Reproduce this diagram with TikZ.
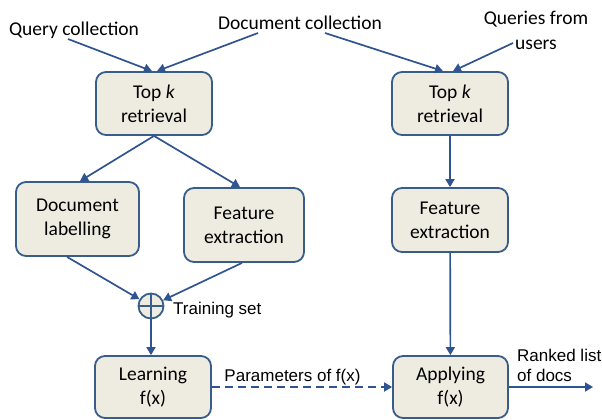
\documentclass[tikz,border=0pt]{standalone}
\usepackage{fontspec}
\setmainfont{Carlito}
\newfontfamily\arialf{Liberation Sans}
\usetikzlibrary{arrows.meta}
\definecolor{bcol}{HTML}{385D8A}
\definecolor{acol}{HTML}{2F5490}
\definecolor{bfill}{HTML}{EEECE1}
\begin{document}
\begin{tikzpicture}[x=1pt,y=-1pt,
 box/.style={draw=bcol, fill=bfill, line width=1.8pt, rounded corners=10pt, align=center, font=\fontsize{19.5}{24}\selectfont, inner sep=0pt},
 lbl/.style={font=\fontsize{19.5}{25}\selectfont, inner sep=0pt, align=center},
 albl/.style={font=\arialf\fontsize{17}{20}\selectfont, inner sep=0pt},
 arr/.style={draw=acol, line width=1.7pt, -{Triangle[length=8pt,width=9pt]}},
 summer/.style={circle, draw=bcol, fill=bfill, line width=1.8pt, minimum size=25pt, inner sep=0pt,
   path picture={\draw[bcol, line width=1.8pt] (path picture bounding box.north) -- (path picture bounding box.south)
     (path picture bounding box.west) -- (path picture bounding box.east);}},
]
\useasboundingbox (0,0) rectangle (602,420);
% boxes
\node[box, minimum width=116pt, minimum height=63pt] (tk1) at (154,103.5) {Top \textit{k}\\retrieval};
\node[box, minimum width=116pt, minimum height=63pt] (tk2) at (450,103.5) {Top \textit{k}\\retrieval};
\node[box, minimum width=123pt, minimum height=74pt] (dl) at (77.5,219) {Document\\labelling};
\node[box, minimum width=120pt, minimum height=74pt] (fe1) at (244,225) {Feature\\extraction};
\node[box, minimum width=116pt, minimum height=64pt] (fe2) at (450,220) {Feature\\extraction};
\node[box, minimum width=116pt, minimum height=62pt] (learn) at (153,387) {Learning\\f(x)};
\node[box, minimum width=115pt, minimum height=62pt] (apply) at (450.5,387) {Applying\\f(x)};
\node[summer] (circ) at (151,306) {};
% labels
\node[lbl] (qc) at (74,30) {Query collection};
\node[lbl] (dc) at (300,23) {Document collection};
\node[lbl] (qu) at (536,30.5) {Queries from\\users};
\node[albl, anchor=west] (ts) at (173,310) {Training set};
\node[albl] (par) at (292.5,377) {Parameters of f(x)};
\node[albl, align=left, anchor=west] (rl) at (517,365) {Ranked list\\of docs};
% free ends
\coordinate (qcS) at (68,39);
\coordinate (dcL) at (258,33);
\coordinate (dcR) at (325,33);
\coordinate (quS) at (513,43);
\coordinate (out) at (593,387);
% connectors
\draw[arr] (qcS) -- ([xshift=-2pt]tk1.north);
\draw[arr] (dcL) -- ([xshift=3pt]tk1.north);
\draw[arr] (dcR) -- ([xshift=-7pt]tk2.north);
\draw[arr] (quS) -- ([xshift=3pt]tk2.north);
\draw[arr] (tk1.south) -- ([xshift=2.5pt]dl.north);
\draw[arr] (tk1.south) -- ([xshift=-4pt]fe1.north);
\draw[arr] ([xshift=-10.5pt]dl.south) -- (circ);
\draw[arr] ([xshift=-2pt]fe1.south) -- (circ);
\draw[arr] (circ.south) -- (circ.south |- learn.north);
\draw[arr] (tk2) -- (fe2);
\draw[arr] (fe2) -- (apply);
\draw[arr, dash pattern=on 8pt off 5pt] (learn) -- (apply);
\draw[arr] (apply) -- (out);
\end{tikzpicture}
\end{document}
